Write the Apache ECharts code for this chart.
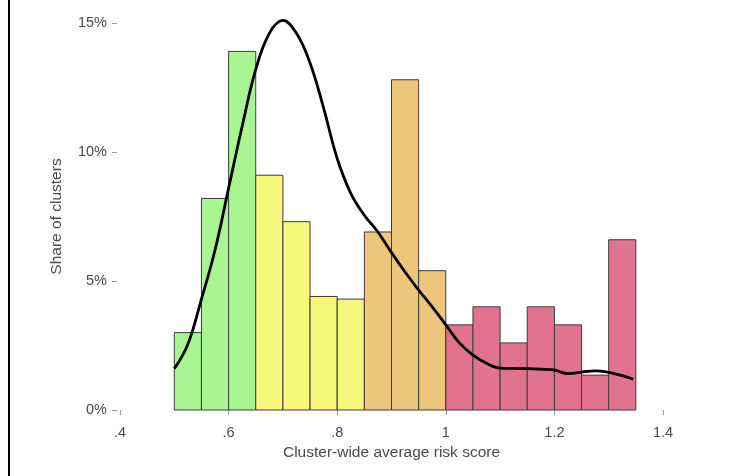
<!DOCTYPE html>
<html>
<head>
<meta charset="utf-8">
<script src="https://cdn.jsdelivr.net/npm/echarts@6/dist/echarts.min.js"></script>
<style>
html,body{margin:0;padding:0;background:#fff;}
#c{width:745px;height:476px;}
</style>
</head>
<body>
<div id="c"></div>
<script>
// Histogram bins (start of each 0.05-wide bin) and share of clusters (%)
var binStarts = [0.50,0.55,0.60,0.65,0.70,0.75,0.80,0.85,0.90,0.95,1.00,1.05,1.10,1.15,1.20,1.25,1.30];
var binWidth = 0.05;
var shares = [3.0,8.2,13.9,9.1,7.3,4.4,4.3,6.9,12.8,5.4,3.3,4.0,2.6,4.0,3.3,1.35,6.6];
var groups = [0,0,0,1,1,1,1,2,2,2,3,3,3,3,3,3,3];
var groupColors = ['#a9f594','#f6f67b','#ecc67b','#e27390'];

// Density curve (x, %)
var densX = [0.500,0.525,0.550,0.575,0.600,0.625,0.650,0.675,0.700,0.725,0.750,0.775,0.800,0.825,0.850,0.875,0.900,0.925,0.950,0.975,1.000,1.025,1.050,1.075,1.100,1.125,1.150,1.175,1.200,1.225,1.250,1.275,1.300,1.325,1.345];
var densY = [1.6,2.55,4.3,6.2,8.6,11.0,13.2,14.6,15.1,14.6,13.45,11.7,9.75,8.4,7.55,6.9,6.1,5.35,4.65,4.0,3.3,2.6,2.13,1.81,1.62,1.61,1.60,1.58,1.55,1.41,1.47,1.52,1.46,1.33,1.19];

// Axis ticks
var xTicks = [0.4,1.4,0.2];
var yTicks = [0,15,5];
var xTitle = 'Cluster-wide average risk score';
var yTitle = 'Share of clusters';

var barData = binStarts.map(function(s,i){return [s, s+binWidth, shares[i], groups[i]];});
var lineData = densX.map(function(x,i){return [x, densY[i]];});

var font = '"Liberation Sans", Arial, Helvetica, sans-serif';
var txt = '#4a4a4a';

var chart = echarts.init(document.getElementById('c'), null, {renderer:'canvas'});
chart.setOption({
  backgroundColor:'#ffffff',
  animation:false,
  grid:{left:120, right:82, top:23, bottom:66, containLabel:false},
  xAxis:{
    type:'value', min:xTicks[0], max:xTicks[1], interval:xTicks[2],
    offset:3,
    axisLine:{show:false},
    axisTick:{show:true, length:5, lineStyle:{color:'#999', width:1}},
    splitLine:{show:false},
    axisLabel:{margin:12, color:txt, fontSize:14.5, fontFamily:font,
      formatter:function(v){ return String(+v.toFixed(1)).replace(/^0\./,'.'); }},
    name:xTitle, nameLocation:'middle', nameGap:28,
    nameTextStyle:{color:txt, fontSize:15.5, fontFamily:font}
  },
  yAxis:{
    type:'value', min:yTicks[0], max:yTicks[1], interval:yTicks[2],
    offset:3,
    axisLine:{show:false},
    axisTick:{show:true, length:5, lineStyle:{color:'#999', width:1}},
    splitLine:{show:false},
    axisLabel:{margin:10, color:txt, fontSize:14.5, fontFamily:font, formatter:'{value}%'},
    name:yTitle, nameLocation:'middle', nameGap:52, nameRotate:90,
    nameTextStyle:{color:txt, fontSize:15.5, fontFamily:font}
  },
  graphic:[{type:'rect', left:8, top:0, shape:{width:2, height:476}, style:{fill:'#000'}, silent:true}],
  series:[
    {
      type:'custom',
      data:barData,
      encode:{x:[0,1], y:2},
      renderItem:function(params, api){
        var p0 = api.coord([api.value(0), api.value(2)]);
        var p1 = api.coord([api.value(1), 0]);
        return {
          type:'rect',
          shape:{x:p0[0], y:p0[1], width:p1[0]-p0[0], height:p1[1]-p0[1]},
          style:{fill:groupColors[api.value(3)], stroke:'#3c3c3c', lineWidth:1}
        };
      },
      z:1
    },
    {
      type:'line',
      data:lineData,
      smooth:0.4,
      showSymbol:false,
      clip:false,
      lineStyle:{color:'#000', width:2.8},
      z:3
    }
  ]
});
</script>
</body>
</html>
